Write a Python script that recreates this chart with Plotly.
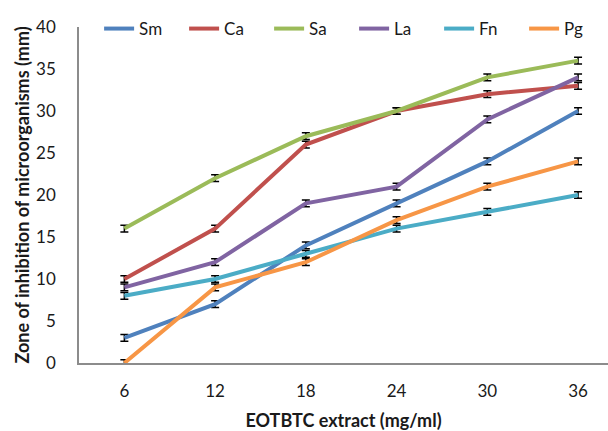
import plotly.graph_objects as go

categories = ["6", "12", "18", "24", "30", "36"]
series_names = ["Sm", "Ca", "Sa", "La", "Fn", "Pg"]
sm = [3, 7, 14, 19, 24, 30]
ca = [10, 16, 26, 30, 32, 33]
sa = [16, 22, 27, 30, 34, 36]
la = [9, 12, 19, 21, 29, 34]
fn = [8, 10, 13, 16, 18, 20]
pg = [0, 9, 12, 17, 21, 24]
err = [0.4, 0.4, 0.4, 0.4, 0.4, 0.4]
colors = ["#4F81BD", "#C0504D", "#9BBB59", "#8064A2", "#4BACC6", "#F79646"]

values = [sm, ca, sa, la, fn, pg]

fig = go.Figure()
for name, vals, col in zip(series_names, values, colors):
    fig.add_trace(go.Scatter(
        x=categories, y=vals, name=name, mode="lines",
        line=dict(color=col, width=4),
        error_y=dict(type="data", array=err, visible=True, color="black",
                     thickness=1.5, width=4),
    ))

font_family = "Lato, Open Sans, sans-serif"
fig.update_layout(
    width=608, height=431,
    margin=dict(l=79, r=0, t=27, b=68, autoexpand=False),
    paper_bgcolor="white", plot_bgcolor="white",
    font=dict(family=font_family, size=16, color="#1a1a1a"),
    showlegend=True,
    legend=dict(orientation="h", x=0.038, xanchor="left", y=0.994, yanchor="middle",
                font=dict(size=17, color="#1a1a1a"), bgcolor="rgba(0,0,0,0)",
                entrywidth=40, entrywidthmode="pixels", itemwidth=30),
    xaxis=dict(type="category", range=[-0.5, 5.33], showgrid=False, zeroline=False,
               automargin=False,
               showline=True, linecolor="#8C8C8C", linewidth=1.5, ticks="",
               tickfont=dict(size=17), ticklabelstandoff=12,
               title=dict(text="<b>EOTBTC extract (mg/ml)</b>", font=dict(size=18),
                          standoff=17)),
    yaxis=dict(range=[0, 40], dtick=5, showgrid=False, zeroline=False,
               automargin=False,
               showline=True, linecolor="#8C8C8C", linewidth=1.5, ticks="",
               tickfont=dict(size=17), ticklabelstandoff=18,
               title=dict(text="<b>Zone of inhibition of microorganisms (mm)</b>",
                          font=dict(size=18), standoff=2)),
)

fig.write_html("out.html",
               config={"displayModeBar": False},
               post_script="document.body.style.margin='0';document.body.style.overflow='hidden';")
